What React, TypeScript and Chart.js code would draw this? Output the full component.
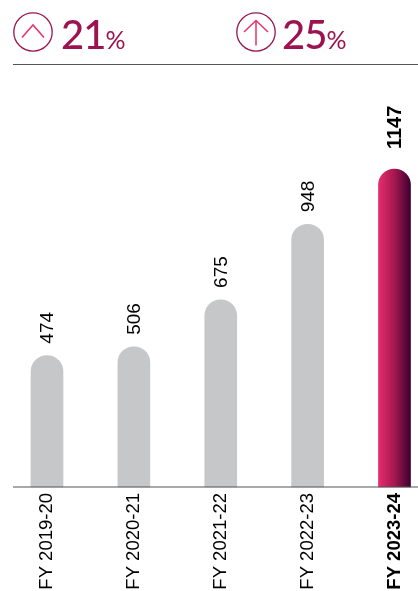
import React, { useEffect, useRef } from "react";
import { Chart, registerables } from "chart.js";

Chart.register(...registerables);

const categories = ["FY 2019-20", "FY 2020-21", "FY 2021-22", "FY 2022-23", "FY 2023-24"];
const values = [474, 506, 675, 948, 1147];
const highlightIndex = 4;
const FONT = "'Liberation Sans', Arial, sans-serif";

const valueLabels = {
  id: "valueLabels",
  afterDatasetsDraw(chart: any) {
    const { ctx } = chart;
    chart.getDatasetMeta(0).data.forEach((bar: any, i: number) => {
      const hi = i === highlightIndex;
      ctx.save();
      ctx.translate(bar.x + 1, bar.y - (hi ? 20 : 12));
      ctx.rotate(-Math.PI / 2);
      ctx.font = `${hi ? "bold 20px" : "19px"} ${FONT}`;
      ctx.fillStyle = "#000";
      ctx.textAlign = "left";
      ctx.textBaseline = "middle";
      ctx.fillText(String(values[i]), 0, 0);
      ctx.restore();
    });
  },
};

const baseline = {
  id: "baseline",
  afterDatasetsDraw(chart: any) {
    const { ctx } = chart;
    const y = chart.scales.y.getPixelForValue(0);
    ctx.save();
    ctx.strokeStyle = "#555";
    ctx.lineWidth = 1.2;
    ctx.beginPath();
    ctx.moveTo(13, y);
    ctx.lineTo(418, y);
    ctx.stroke();
    ctx.restore();
  },
};

function Icon({ left, kind }: { left: number; kind: "chevron" | "arrow" }) {
  return (
    <svg width="42" height="42" viewBox="0 0 42 42" style={{ position: "absolute", left, top: 11 }}>
      <circle cx="21" cy="21" r="19.2" fill="none" stroke="#9b1350" strokeWidth="1.3" />
      {kind === "chevron" ? (
        <path d="M10 26.5 L21 14 L32 26.5" fill="none" stroke="#e8306f" strokeWidth="1.5" />
      ) : (
        <path d="M9 21 L21 9.5 L33 21 M21 9.5 L21 34.5" fill="none" stroke="#e8306f" strokeWidth="1.5" />
      )}
    </svg>
  );
}

function Stat({ left, value }: { left: number; value: string }) {
  return (
    <div style={{ position: "absolute", left, top: 9, color: "#9b1350", fontFamily: "Lato, sans-serif", lineHeight: "50px", whiteSpace: "nowrap", fontWeight: 500 }}>
      <span style={{ fontSize: 40, letterSpacing: -1 }}>{value}</span>
      <span style={{ fontSize: 25, fontWeight: 400 }}>%</span>
    </div>
  );
}

export default function App() {
  const ref = useRef<HTMLCanvasElement>(null);
  useEffect(() => {
    document.body.style.margin = "0";
    const chart = new Chart(ref.current!, {
      type: "bar",
      data: {
        labels: categories,
        datasets: [
          {
            data: values,
            barThickness: 32,
            borderRadius: { topLeft: 16, topRight: 16, bottomLeft: 0, bottomRight: 0 },
            borderSkipped: false,
            clip: false,
            backgroundColor: (c: any) => {
              if (c.dataIndex !== highlightIndex) return "#c6c7c9";
              const x = c.chart.scales?.x?.getPixelForValue(highlightIndex);
              if (x === undefined) return "#a0174f";
              const g = c.chart.ctx.createLinearGradient(x - 16, 0, x + 16, 0);
              g.addColorStop(0, "#e52c6e");
              g.addColorStop(0.5, "#a5174f");
              g.addColorStop(1, "#3c0030");
              return g;
            },
          } as any,
        ],
      },
      options: {
        animation: false,
        responsive: false,
        devicePixelRatio: 1,
        layout: { padding: { left: 47, right: 23.5, top: 99, bottom: 0 } },
        plugins: { legend: { display: false }, tooltip: { enabled: false } },
        scales: {
          x: {
            offset: false,
            grid: { display: false, drawTicks: false },
            border: { display: false },
            afterFit: (s: any) => { s.height = 104; s.paddingLeft = 0; s.paddingRight = 0; },
            ticks: {
              minRotation: 90,
              maxRotation: 90,
              autoSkip: false,
              padding: 6,
              color: "#000",
              font: (c: any) => ({ family: FONT, size: 18.5, weight: c.index === highlightIndex ? "bold" : "normal" }),
            },
          },
          y: { display: false, min: 0, max: 1400 },
        },
      },
      plugins: [valueLabels, baseline],
    });
    return () => chart.destroy();
  }, []);
  return (
    <div style={{ position: "relative", width: 418, height: 591, overflow: "hidden", background: "#fff" }}>
      <Icon left={12} kind="chevron" />
      <Stat left={61} value="21" />
      <Icon left={235} kind="arrow" />
      <Stat left={282} value="25" />
      <div style={{ position: "absolute", left: 13, right: 0, top: 63.5, height: 1, background: "#555" }} />
      <canvas ref={ref} width={418} height={591} style={{ display: "block" }} />
    </div>
  );
}
